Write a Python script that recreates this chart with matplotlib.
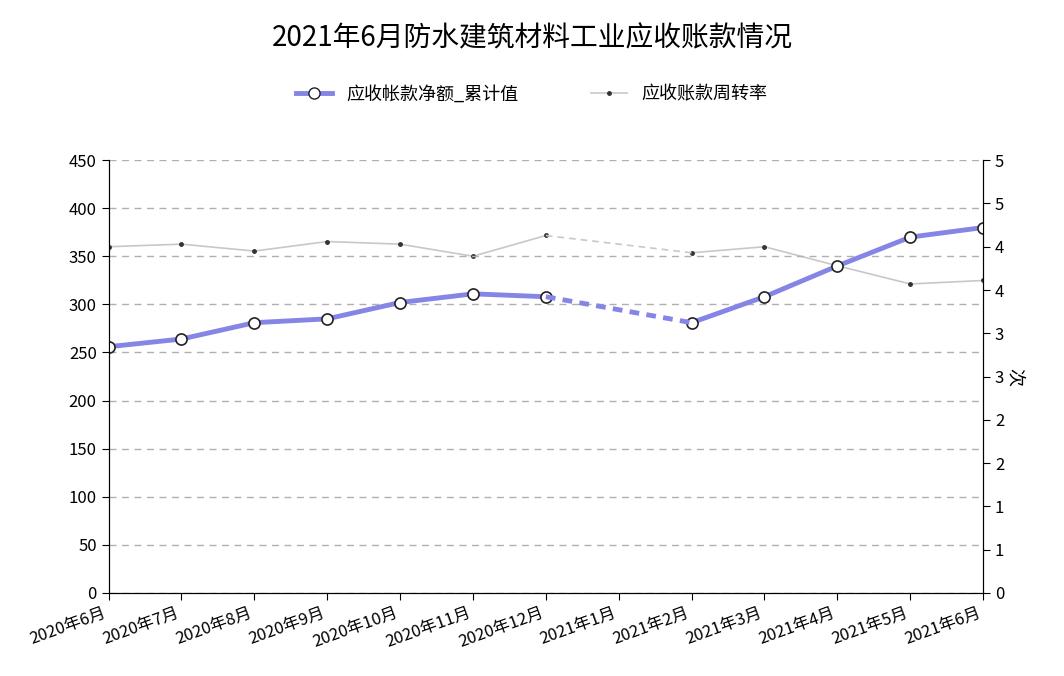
import matplotlib
matplotlib.use("Agg")
import matplotlib.pyplot as plt
import numpy as np

plt.rcParams["font.family"] = ["Noto Sans CJK SC", "DejaVu Sans"]

months = ["2020年6月", "2020年7月", "2020年8月", "2020年9月", "2020年10月", "2020年11月",
          "2020年12月", "2021年1月", "2021年2月", "2021年3月", "2021年4月", "2021年5月", "2021年6月"]
receivables = [256, 264, 281, 285, 302, 311, 308, np.nan, 281, 308, 340, 370, 380]
turnover = [4.0, 4.03, 3.95, 4.06, 4.03, 3.89, 4.13, np.nan, 3.93, 4.0, 3.78, 3.57, 3.61]
right_ticklabels = ["0", "1", "1", "2", "2", "3", "3", "4", "4", "5", "5"]

x = np.arange(len(months))
purple = "#8585e6"
gray = "#c8c8c8"

fig = plt.figure(figsize=(10.64, 6.76), dpi=100)
ax = fig.add_axes([0.102, 0.123, 0.822, 0.64])
ax2 = ax.twinx()

def gap_bridge(vals):
    v = np.array(vals, dtype=float)
    idx = np.where(np.isnan(v))[0]
    segs = []
    for i in idx:
        segs.append(([i - 1, i + 1], [v[i - 1], v[i + 1]]))
    return segs

# turnover (right axis)
ax2.plot(x, turnover, color=gray, lw=1.2, marker="o", ms=2.5, mfc="#333333", mec="#333333", zorder=2)
for xs, ys in gap_bridge(turnover):
    ax2.plot(xs, ys, color=gray, lw=1.2, ls=(0, (4, 3)), zorder=2)
ax2.set_ylim(0, 5)
ax2.set_yticks(np.arange(0, 5.01, 0.5))
ax2.set_yticklabels(right_ticklabels)
ax2.set_ylabel("次", rotation=270, labelpad=14, fontsize=13)

# receivables (left axis) drawn on top
ax.set_zorder(ax2.get_zorder() + 1)
ax.patch.set_visible(False)
ax.plot(x, receivables, color=purple, lw=3.5, marker="o", ms=8, mfc="white", mec="#222222", mew=1.2)
for xs, ys in gap_bridge(receivables):
    ax.plot(xs, ys, color=purple, lw=3.5, ls=(0, (2, 1.5)))
ax.set_ylim(0, 450)
ax.set_yticks(np.arange(0, 451, 50))
ax.set_xlim(0, len(months) - 1)
ax.set_xticks(x)
ax.set_xticklabels(months, rotation=20, ha="right", fontsize=11)
ax.yaxis.grid(True, ls=(0, (5, 4)), color="#b0b0b0", lw=1)
ax.set_axisbelow(True)

for a in (ax, ax2):
    a.spines["top"].set_visible(False)
    a.tick_params(labelsize=12, length=5)

fig.suptitle("2021年6月防水建筑材料工业应收账款情况", fontsize=20, y=0.965)

from matplotlib.lines import Line2D
handles = [
    Line2D([], [], color=purple, lw=3.5, marker="o", ms=8, mfc="white", mec="#222222"),
    Line2D([], [], color=gray, lw=1.2, marker="o", ms=2.5, mfc="#333333", mec="#333333"),
]
fig.legend(handles, ["应收帐款净额_累计值", "应收账款周转率"], loc="center", bbox_to_anchor=(0.5, 0.86),
           ncol=2, frameon=False, fontsize=13, columnspacing=4, handlelength=2)

fig.savefig("out.png", dpi=100)
